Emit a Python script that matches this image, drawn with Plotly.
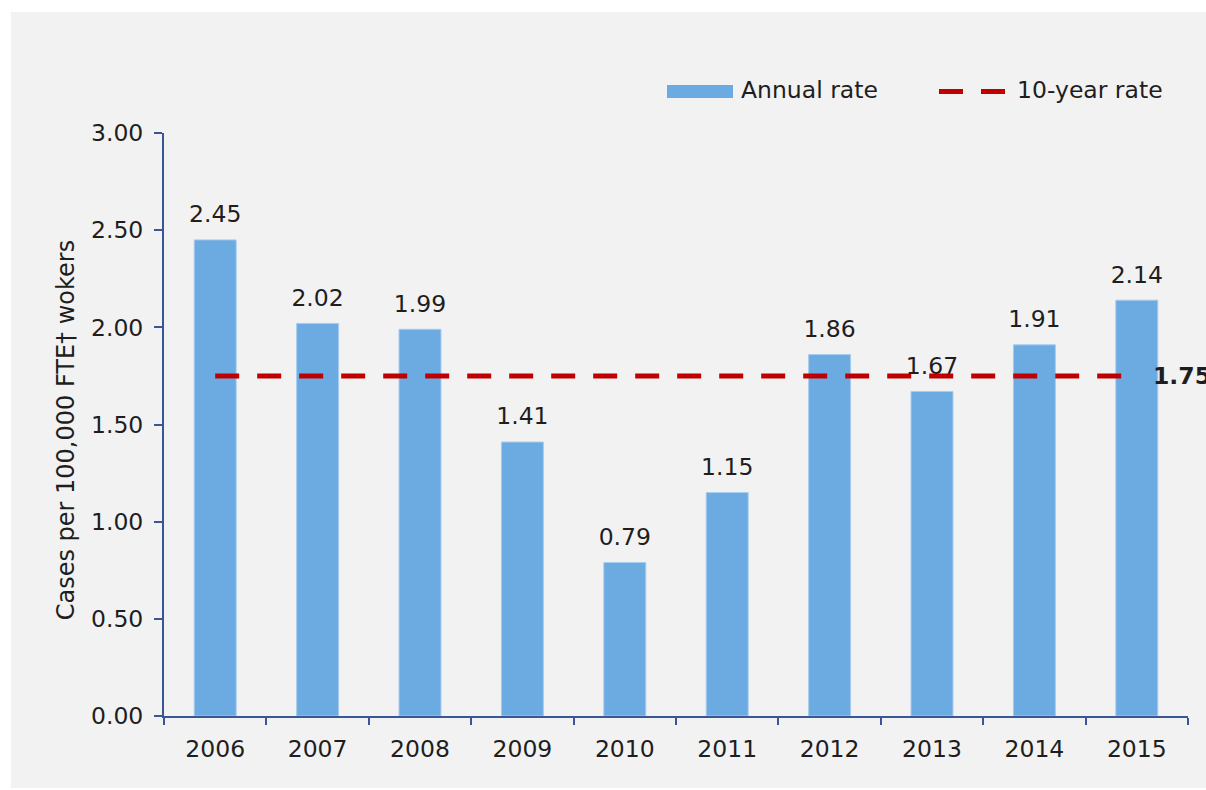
import plotly.graph_objects as go

years = ["2006", "2007", "2008", "2009", "2010", "2011", "2012", "2013", "2014", "2015"]
annual_rate = [2.45, 2.02, 1.99, 1.41, 0.79, 1.15, 1.86, 1.67, 1.91, 2.14]
ten_year_rate = 1.75
y_title = "Cases per 100,000 FTE† wokers"
legend_names = ["Annual rate", "10-year rate"]

W, H = 1206, 790
L, R, T, B = 164, 1188, 133, 716  # plot-area pixel box


def px_x(px):
    return (px - L) / (R - L)


def px_y(py):
    return (B - py) / (B - T)


BLUE = "#6caae2"
RED = "#c00000"
AXIS = "#3a5795"
TXT = "#1e1e1e"
FONT = "DejaVu Sans"
FS = 23.5

fig = go.Figure()
fig.add_trace(go.Bar(
    x=years, y=annual_rate, name=legend_names[0],
    marker=dict(color=BLUE, line=dict(color="#a9cdee", width=1)),
    showlegend=False, hoverinfo="x+y",
))
# value labels (drawn below the dashed line, like the reference)
fig.add_trace(go.Scatter(
    x=years, y=annual_rate, mode="markers+text",
    text=["%.2f" % v for v in annual_rate], textposition="top center",
    marker=dict(size=17, color="rgba(0,0,0,0)"),
    textfont=dict(family=FONT, size=FS, color=TXT),
    showlegend=False, hoverinfo="skip", cliponaxis=False,
))
fig.add_trace(go.Scatter(
    x=years, y=[ten_year_rate] * len(years), name=legend_names[1],
    mode="lines", line=dict(color=RED, width=5, dash="24px,18px"),
    showlegend=False, cliponaxis=False,
))

shapes = [
    dict(type="rect", xref="paper", yref="paper",
         x0=px_x(11), x1=px_x(1210), y0=px_y(12), y1=px_y(788),
         fillcolor="#f2f2f2", line=dict(width=0), layer="below"),
    # legend swatches
    dict(type="rect", xref="paper", yref="paper",
         x0=px_x(667), x1=px_x(733), y0=px_y(98), y1=px_y(85),
         fillcolor=BLUE, line=dict(width=0)),
    dict(type="line", xref="paper", yref="paper",
         x0=px_x(939), x1=px_x(1005), y0=px_y(91.5), y1=px_y(91.5),
         line=dict(color=RED, width=5, dash="24px,18px")),
]

annotations = [
    dict(text=legend_names[0], xref="paper", yref="paper", x=px_x(739), y=px_y(90),
         xanchor="left", yanchor="middle", showarrow=False,
         font=dict(family=FONT, size=FS, color=TXT)),
    dict(text=legend_names[1], xref="paper", yref="paper", x=px_x(1015), y=px_y(90),
         xanchor="left", yanchor="middle", showarrow=False,
         font=dict(family=FONT, size=FS, color=TXT)),
    dict(text=y_title, xref="paper", yref="paper", x=px_x(66), y=0.49,
         xanchor="center", yanchor="middle", textangle=-90, showarrow=False,
         font=dict(family=FONT, size=24, color=TXT)),
    dict(text="<b>%.2f</b>" % ten_year_rate, xref="x", yref="y", x=len(years) - 1, y=ten_year_rate,
         xanchor="left", yanchor="middle", xshift=14, showarrow=False,
         font=dict(family=FONT, size=FS, color=TXT)),
]

fig.update_layout(
    width=W, height=H,
    margin=dict(l=L, r=W - R, t=T, b=H - B, autoexpand=False),
    paper_bgcolor="white", plot_bgcolor="rgba(0,0,0,0)",
    bargap=0.59,
    shapes=shapes, annotations=annotations,
    font=dict(family=FONT, color=TXT),
    xaxis=dict(type="category", range=[-0.5, len(years) - 0.5], showline=True, linecolor=AXIS, linewidth=2,
               ticks="outside", tickson="boundaries", ticklen=7, tickcolor=AXIS, tickwidth=2,
               tickfont=dict(family=FONT, size=FS, color=TXT), ticklabelstandoff=11,
               showgrid=False, zeroline=False),
    yaxis=dict(range=[0, 3], dtick=0.5, tickformat=".2f", showline=True, linecolor=AXIS,
               linewidth=2, ticks="outside", ticklen=8, tickcolor=AXIS, tickwidth=2,
               tickfont=dict(family=FONT, size=FS, color=TXT), ticklabelstandoff=6,
               showgrid=False, zeroline=False),
)

fig.write_html("out.html", config={"displayModeBar": False},
               post_script="document.body.style.margin='0';document.body.style.overflow='hidden';")
